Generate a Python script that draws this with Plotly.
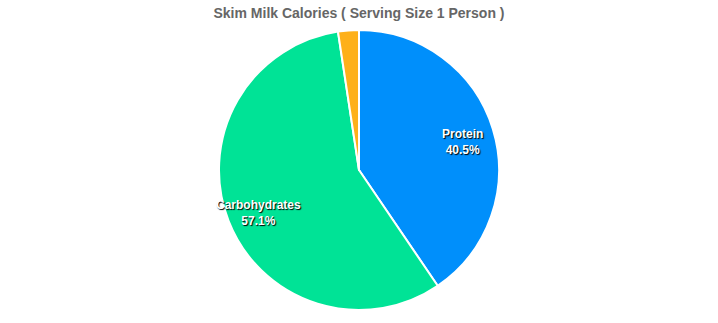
import math
import plotly.graph_objects as go

labels = ["Protein", "Carbohydrates", "Fat"]
values = [40.5, 57.1, 2.4]
colors = ["#008FFB", "#00E396", "#FEB019"]
show_label = [True, True, False]

W, H = 718, 323
M_T, M_B = 30, 13
plot_h = H - M_T - M_B
radius = min(W, plot_h) / 2
label_frac = 0.77

fig = go.Figure(go.Pie(
    labels=labels,
    values=values,
    sort=False,
    direction="clockwise",
    rotation=0,
    marker=dict(colors=colors, line=dict(color="white", width=2)),
    textinfo="none",
    hoverinfo="label+percent",
    showlegend=False,
))

total = sum(values)
cum = 0.0
for lab, v, s in zip(labels, values, show_label):
    mid = (cum + v / 2) / total * 2 * math.pi
    cum += v
    if not s:
        continue
    x = 0.5 + radius * label_frac * math.sin(mid) / W
    y = 0.5 + radius * label_frac * math.cos(mid) / plot_h
    fig.add_annotation(
        x=x, y=y, xref="paper", yref="paper", showarrow=False, yshift=-4,
        text=f"<b>{lab}<br>{v / total * 100:.1f}%</b>",
        font=dict(family="Liberation Sans, Arial, sans-serif", size=12, color="white",
                  shadow="1px 1px 1px #000"),
        align="center",
    )

fig.update_layout(
    width=W, height=H,
    margin=dict(l=0, r=0, t=M_T, b=M_B),
    paper_bgcolor="white",
    title=dict(text="<b>Skim Milk Calories ( Serving Size 1 Person )</b>",
               x=0.5, xanchor="center", y=0.96, yanchor="middle",
               font=dict(family="Liberation Sans, Arial, sans-serif", size=14, color="#666666")),
)

fig.write_html("out.html")
